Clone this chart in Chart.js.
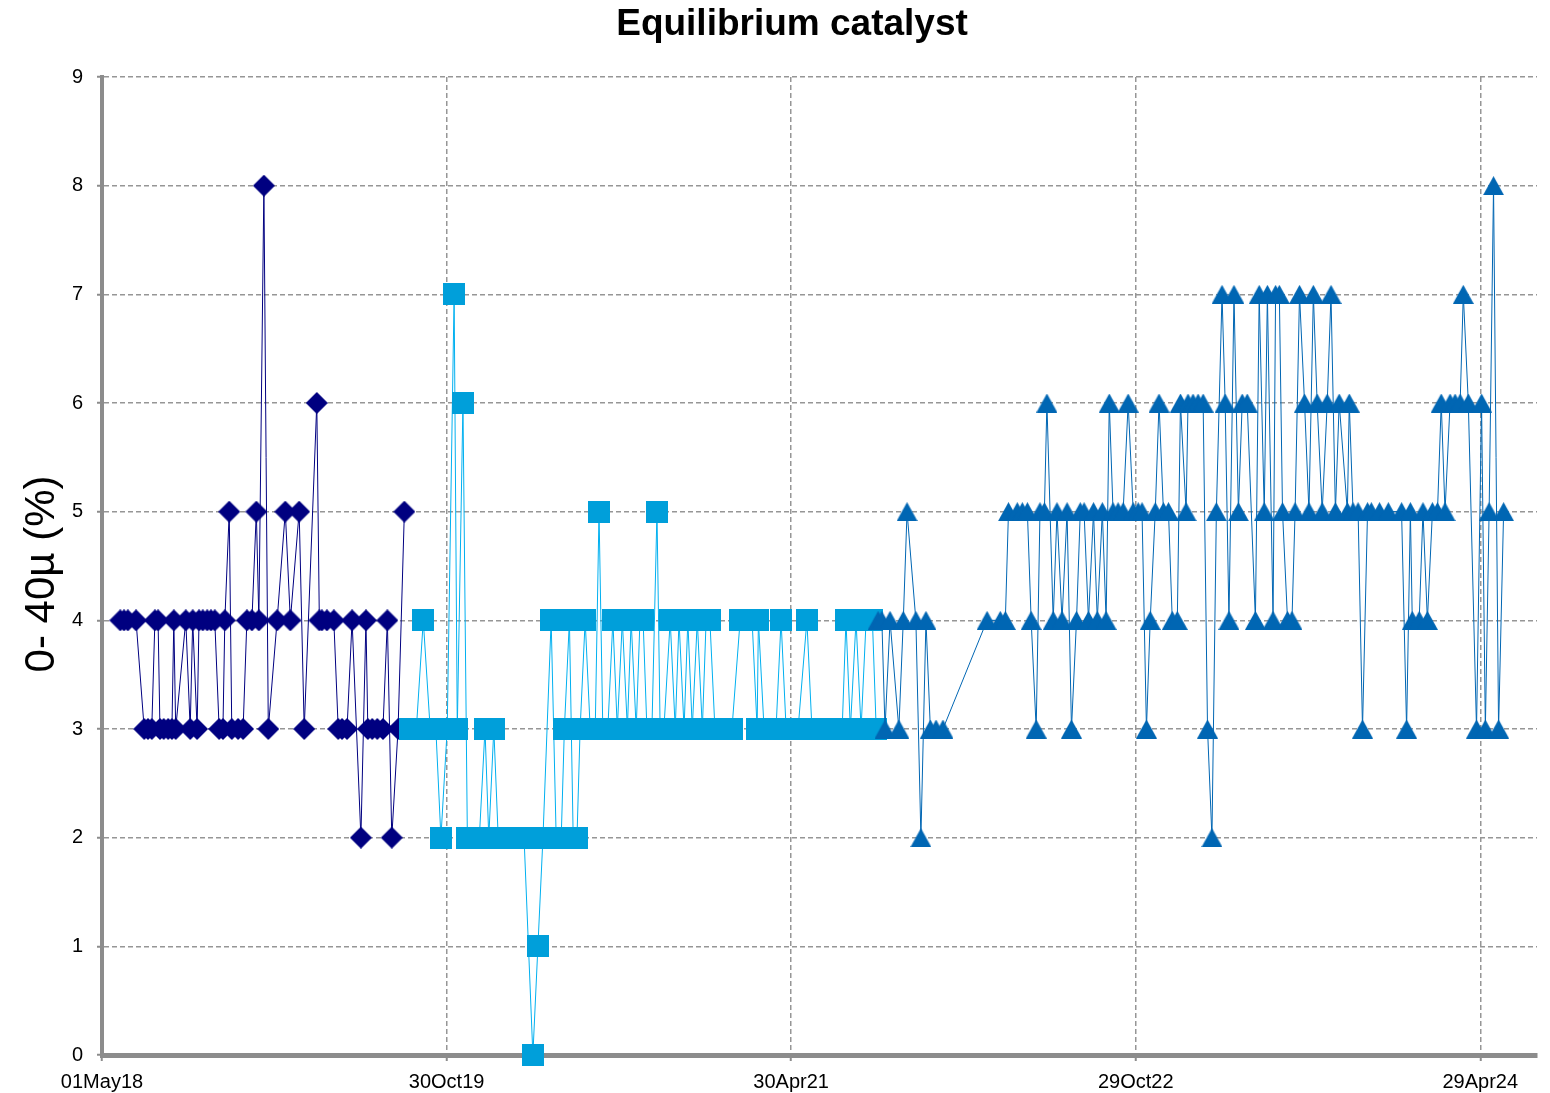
<!DOCTYPE html>
<html><head><meta charset="utf-8">
<script src="https://cdn.jsdelivr.net/npm/chart.js@4.4.1/dist/chart.umd.min.js"></script>
<style>html,body{margin:0;padding:0;background:#fff}#wrap{width:1550px;height:1093px;position:relative}</style>
</head><body><div id="wrap"><canvas id="c" width="1550" height="1093"></canvas></div>
<script>
// ---- data (x = days since 01 May 2018) ----
const chartTitle = 'Equilibrium catalyst';
const yAxisTitle = '0- 40µ (%)';
const xTickDays = [0, 547, 1094, 1641, 2188];
const xTickLabels = ['01May18', '30Oct19', '30Apr21', '29Oct22', '29Apr24'];
const xMaxDay = 2278;
const yMin = 0, yMax = 9;

const seriesADays = [29,35,41,54,67,73,79,84,89,92,98,105,111,114,117,133,140,144,151,154,160,167,173,179,186,192,195,202,206,216,224,230,238,245,249,257,264,278,291,299,313,321,341,345,349,357,368,375,381,389,397,411,419,422,429,437,446,453,460,470,480];
const seriesAValues = [4,4,4,4,3,3,3,4,4,3,3,3,3,4,3,4,3,4,3,4,4,4,4,4,3,3,4,5,3,3,3,4,4,5,4,8,3,4,5,4,5,3,6,4,4,4,4,3,3,3,4,2,4,3,3,3,3,4,2,3,5];

const seriesBDays = [489,499,510,521,530,538,548,559,564,573,580,589,599,608,614,622,629,638,648,657,670,684,692,700,713,721,729,734,742,748,754,759,767,775,783,789,795,803,811,818,826,834,840,848,854,859,865,873,881,886,892,902,910,916,924,930,937,945,953,959,965,973,981,991,1000,1013,1021,1032,1040,1042,1051,1061,1070,1078,1086,1096,1105,1119,1127,1137,1146,1156,1165,1175,1181,1188,1197,1205,1213,1223,1229];
const seriesBValues = [3,3,4,3,3,2,3,7,3,6,2,2,2,3,2,3,2,2,2,2,2,0,1,2,4,2,2,3,4,2,2,3,4,3,3,5,3,3,4,3,4,3,4,3,4,4,3,3,5,3,3,4,3,4,3,4,3,4,3,4,4,3,3,3,3,4,4,4,3,4,3,3,3,4,3,3,3,4,3,3,3,3,3,3,4,3,4,3,4,4,3];

const seriesCDays = [1232,1238,1243,1251,1265,1272,1278,1292,1300,1308,1315,1324,1335,1405,1426,1434,1439,1453,1461,1469,1475,1483,1489,1496,1500,1510,1516,1524,1532,1539,1547,1553,1559,1566,1574,1580,1588,1594,1599,1605,1613,1621,1629,1637,1645,1651,1658,1664,1672,1678,1685,1693,1699,1707,1712,1721,1724,1732,1740,1748,1755,1762,1769,1778,1783,1789,1797,1804,1810,1818,1831,1837,1845,1850,1859,1863,1869,1874,1882,1889,1894,1901,1909,1916,1923,1929,1937,1945,1951,1958,1964,1977,1980,1986,1994,2001,2009,2015,2028,2042,2063,2071,2077,2080,2091,2097,2104,2112,2120,2126,2132,2140,2148,2156,2161,2169,2182,2190,2196,2202,2209,2217,2225];
const seriesCValues = [4,4,3,4,3,4,5,4,2,4,3,3,3,4,4,4,5,5,5,5,4,3,5,5,6,4,5,4,5,3,4,5,5,4,5,4,5,4,6,5,5,5,6,5,5,5,3,4,5,6,5,5,4,4,6,5,6,6,6,6,3,2,5,7,6,4,7,5,6,6,4,7,5,7,4,7,7,5,4,4,5,7,6,5,7,6,5,6,7,5,6,5,6,5,5,3,5,5,5,5,5,3,5,4,4,5,4,5,5,6,5,6,6,6,7,6,3,6,3,5,8,3,5];

// ---- markers ----
function makeMarker(shape, color, w, h) {
  const c = document.createElement('canvas');
  c.width = w; c.height = h;
  const g = c.getContext('2d');
  g.fillStyle = color;
  g.beginPath();
  if (shape === 'diamond') { g.moveTo(w/2,0); g.lineTo(w,h/2); g.lineTo(w/2,h); g.lineTo(0,h/2); }
  else if (shape === 'triangle') { g.moveTo(w/2,0); g.lineTo(w,h); g.lineTo(0,h); }
  else { g.rect(0,0,w,h); }
  g.closePath(); g.fill();
  return c;
}
const diamondImg = makeMarker('diamond', '#000080', 22, 22);
const squareImg = makeMarker('square', '#009FDA', 22, 22);
const triangleImg = makeMarker('triangle', '#0066B3', 21, 19);

const toXY = (days, vals) => days.map((d, i) => ({x: d, y: vals[i]}));
const FONT = '"Liberation Sans", Arial, sans-serif';

const textPlugin = {
  id: 'manualText',
  afterDraw(chart) {
    const ctx = chart.ctx;
    ctx.save();
    ctx.fillStyle = '#000';
    ctx.textAlign = 'center';
    ctx.textBaseline = 'middle';
    ctx.font = 'bold 37px ' + FONT;
    ctx.fillText(chartTitle, 792, 25);
    ctx.translate(42, 574);
    ctx.rotate(-Math.PI / 2);
    ctx.font = '42px ' + FONT;
    ctx.fillText(yAxisTitle, 0, 0);
    ctx.restore();
  }
};

new Chart(document.getElementById('c'), {
  type: 'line',
  data: {
    datasets: [
      {label: 'A', data: toXY(seriesADays, seriesAValues), borderColor: '#000080', borderWidth: 1, pointStyle: diamondImg, pointRadius: 11, tension: 0, clip: false, order: 3},
      {label: 'B', data: toXY(seriesBDays, seriesBValues), borderColor: '#00B0F0', borderWidth: 1, pointStyle: squareImg, pointRadius: 11, tension: 0, clip: false, order: 2},
      {label: 'C', data: toXY(seriesCDays, seriesCValues), borderColor: '#0066B3', borderWidth: 1, pointStyle: triangleImg, pointRadius: 11, tension: 0, clip: false, order: 1}
    ]
  },
  options: {
    responsive: false,
    devicePixelRatio: 1,
    animation: false,
    events: [],
    layout: {padding: {top: 77, right: 13, bottom: 0, left: 0}},
    plugins: {legend: {display: false}, tooltip: {enabled: false}, title: {display: false}},
    scales: {
      x: {
        type: 'linear', min: 0, max: xMaxDay,
        afterBuildTicks: s => { s.ticks = xTickDays.map(v => ({value: v})); },
        afterFit: s => { s.height = 38; },
        ticks: {callback: v => xTickLabels[xTickDays.indexOf(v)], font: {family: FONT, size: 20}, color: '#000', padding: 9, maxRotation: 0, autoSkip: false},
        grid: {color: '#969696', lineWidth: 1.5, tickLength: 6, tickColor: '#8c8c8c', tickWidth: 2},
        border: {display: true, color: '#8c8c8c', width: 5, dash: [5, 3]}
      },
      y: {
        min: yMin, max: yMax,
        afterFit: s => { s.width = 102; },
        ticks: {stepSize: 1, font: {family: FONT, size: 20}, color: '#000', padding: 14},
        grid: {color: '#969696', lineWidth: 1.5, tickLength: 5, tickColor: '#8c8c8c', tickWidth: 2},
        border: {display: true, color: '#8c8c8c', width: 4, dash: [5, 3]}
      }
    }
  },
  plugins: [textPlugin]
});
</script></body></html>
